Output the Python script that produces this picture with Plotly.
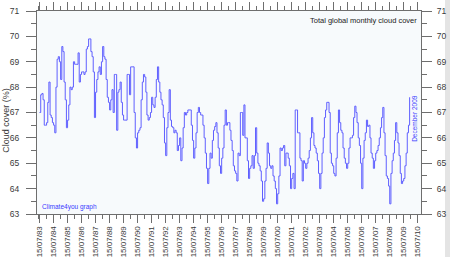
import pandas as pd
import plotly.graph_objects as go

# Monthly total global cloud cover (%), July 1983 - December 2009
cc_1983 = [67.0, 67.7, 67.75, 67.5, 66.5, 66.5]
cc_1984 = [66.6, 67.4, 68.2, 66.9, 66.8, 66.6, 66.5, 66.2, 68.0, 69.1, 69.2, 69.0]
cc_1985 = [68.3, 69.6, 69.4, 68.2, 67.5, 66.4, 66.7, 67.3, 68.0, 67.9, 68.0, 69.0]
cc_1986 = [68.9, 68.9, 68.9, 69.35, 68.2, 68.5, 68.6, 68.6, 68.5, 68.6, 69.5, 69.6]
cc_1987 = [69.9, 69.9, 69.4, 69.2, 68.6, 66.8, 67.8, 68.3, 68.6, 68.8, 68.5, 69.0]
cc_1988 = [69.6, 69.2, 69.1, 68.3, 67.6, 67.4, 67.1, 67.5, 67.9, 67.0, 68.5, 68.5]
cc_1989 = [66.3, 67.8, 67.9, 68.2, 67.4, 66.9, 66.7, 66.7, 66.7, 68.5, 68.5, 67.7]
cc_1990 = [68.8, 68.8, 68.8, 67.0, 66.0, 65.6, 66.2, 66.3, 66.4, 67.5, 68.2, 68.5]
cc_1991 = [68.4, 67.8, 66.9, 66.7, 66.8, 67.0, 67.6, 67.3, 67.2, 67.6, 68.3, 68.8]
cc_1992 = [68.2, 67.8, 67.5, 67.3, 66.8, 65.8, 65.3, 66.4, 67.0, 67.9, 66.7, 66.45]
cc_1993 = [66.4, 66.2, 66.3, 66.2, 65.5, 65.7, 66.0, 65.1, 65.6, 66.4, 67.0, 66.9]
cc_1994 = [67.0, 67.1, 67.1, 67.1, 66.5, 65.9, 65.2, 65.6, 66.2, 67.0, 67.2, 67.0]
cc_1995 = [66.9, 66.9, 66.5, 66.0, 65.4, 64.8, 64.2, 64.8, 65.4, 65.2, 65.9, 66.3]
cc_1996 = [66.45, 66.6, 66.2, 65.6, 64.9, 64.6, 65.2, 65.6, 66.5, 67.1, 66.5, 66.6]
cc_1997 = [66.6, 66.3, 65.9, 65.5, 64.9, 64.7, 64.6, 64.3, 65.4, 65.3, 67.0, 67.0]
cc_1998 = [66.1, 67.3, 66.0, 66.0, 65.1, 64.4, 64.8, 64.9, 65.3, 64.8, 65.3, 66.4]
cc_1999 = [65.4, 65.0, 64.9, 64.7, 64.3, 63.5, 63.6, 64.3, 64.8, 65.8, 65.4, 64.9]
cc_2000 = [64.8, 64.9, 64.5, 64.3, 64.0, 63.4, 63.8, 64.5, 65.6, 65.5, 65.6, 65.7]
cc_2001 = [64.9, 65.4, 65.4, 65.2, 64.9, 64.0, 64.4, 64.6, 64.0, 67.1, 67.1, 66.2]
cc_2002 = [66.2, 65.2, 65.1, 64.3, 65.1, 65.0, 64.8, 65.0, 65.2, 65.5, 66.0, 66.8]
cc_2003 = [66.2, 65.7, 65.6, 65.4, 65.1, 64.6, 64.0, 64.6, 65.4, 66.0, 66.8, 67.1]
cc_2004 = [67.4, 67.4, 67.0, 65.4, 65.0, 64.9, 64.6, 64.5, 65.2, 66.2, 67.1, 66.6]
cc_2005 = [66.3, 66.2, 65.6, 65.2, 65.0, 64.8, 65.0, 65.6, 66.0, 66.0, 66.1, 66.8]
cc_2006 = [67.25, 67.0, 66.6, 66.0, 65.7, 65.0, 64.0, 65.2, 65.9, 66.2, 66.7, 66.45]
cc_2007 = [66.5, 66.0, 65.4, 65.2, 64.8, 65.1, 65.4, 65.5, 65.7, 66.0, 66.4, 66.8]
cc_2008 = [67.2, 66.2, 65.3, 64.5, 64.4, 64.1, 63.4, 64.6, 65.1, 65.4, 65.9, 66.6]
cc_2009 = [66.2, 65.8, 65.3, 64.6, 64.2, 64.3, 64.4, 64.9, 65.4, 66.2, 66.5, 67.6]

series_start = "1983-07-01"
y_ticks_range = [63, 71]
x_range = ["1983-05-10", "2010-10-08"]
title_text = "Total global monthly cloud cover"
credit_text = "Climate4you graph"
updated_text = "December 2009"
y_title = "Cloud cover (%)"

values = (cc_1983 + cc_1984 + cc_1985 + cc_1986 + cc_1987 + cc_1988 + cc_1989
          + cc_1990 + cc_1991 + cc_1992 + cc_1993 + cc_1994 + cc_1995 + cc_1996
          + cc_1997 + cc_1998 + cc_1999 + cc_2000 + cc_2001 + cc_2002 + cc_2003
          + cc_2004 + cc_2005 + cc_2006 + cc_2007 + cc_2008 + cc_2009)
dates = pd.date_range(series_start, periods=len(values), freq="MS") + pd.Timedelta(days=14)

FONT = "Liberation Sans, Arial, sans-serif"
AX = "#6e6e6e"
TXT = "#3a3a3a"
BLUE = "#3a3aff"

fig = go.Figure()
fig.add_trace(go.Scatter(x=dates, y=values, mode="lines", line_shape="hv",
                         line=dict(color="rgb(95,95,255)", width=1),
                         hoverinfo="skip", showlegend=False))
fig.add_trace(go.Scatter(x=dates, y=values, mode="lines", yaxis="y2",
                         line=dict(color="rgba(0,0,0,0)", width=0),
                         hoverinfo="skip", showlegend=False))

common_y = dict(range=y_ticks_range, dtick=1, tick0=63, showgrid=False, zeroline=False,
                showline=True, linecolor=AX, linewidth=1, ticks="outside",
                ticklen=10, tickwidth=1, tickcolor=AX,
                tickfont=dict(family=FONT, size=8.5, color=TXT),
                minor=dict(dtick=0.5, ticks="outside", ticklen=5, tickcolor=AX, tickwidth=1),
                fixedrange=True)

fig.update_layout(
    width=450, height=257,
    margin=dict(l=37, r=29, t=11, b=43),
    paper_bgcolor="white", plot_bgcolor="#f7fafc",
    xaxis=dict(type="date", range=x_range, tick0="1983-07-15", dtick="M12",
               tickformat="%d/%m/%y", tickangle=-90, showgrid=False, zeroline=False,
               showline=True, linecolor=AX, linewidth=1, mirror="ticks",
               ticks="outside", ticklen=8, tickwidth=1, tickcolor=AX,
               tickfont=dict(family=FONT, size=8, color=TXT),
               minor=dict(dtick="M6", ticks="outside", ticklen=4, tickcolor=AX, tickwidth=1),
               automargin=False),
    yaxis=dict(side="left", automargin=False, ticklabelstandoff=5, **common_y),
    yaxis2=dict(side="right", overlaying="y", automargin=False, ticklabelstandoff=3, **common_y),
    font=dict(family=FONT),
)

fig.add_annotation(text=title_text, xref="paper", yref="paper", x=0.849, y=0.952,
                   showarrow=False, xanchor="center", yanchor="middle",
                   font=dict(family=FONT, size=7.5, color="#222222"))
fig.add_annotation(text=credit_text, xref="paper", yref="paper", x=0.008, y=0.034,
                   showarrow=False, xanchor="left", yanchor="middle",
                   font=dict(family=FONT, size=6.5, color=BLUE))
fig.add_annotation(text=updated_text, xref="paper", yref="paper", x=0.984, y=0.473,
                   showarrow=False, xanchor="center", yanchor="middle", textangle=-90,
                   font=dict(family=FONT, size=6.5, color=BLUE))
fig.add_annotation(text=y_title, xref="paper", yref="paper", x=-0.083, y=0.46,
                   showarrow=False, xanchor="center", yanchor="middle", textangle=-90,
                   font=dict(family=FONT, size=9, color=TXT))

fig.add_shape(type="rect", xref="paper", yref="paper", x0=1.0625, x1=1.08,
              y0=-0.25, y1=1.1, line=dict(width=0), fillcolor="#e4e4e4", layer="below")

fig.write_html("out.html")
